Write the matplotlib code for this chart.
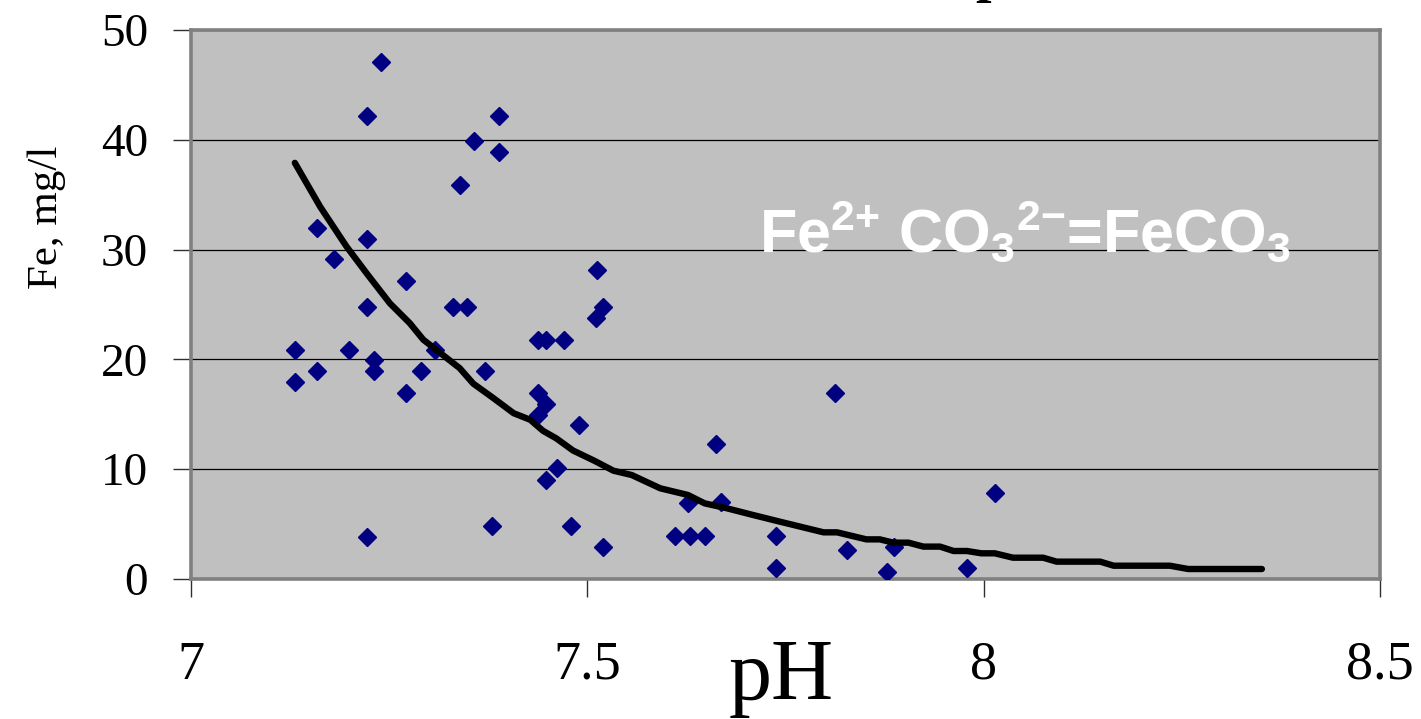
import matplotlib
matplotlib.use("Agg")
import matplotlib.pyplot as plt

# measured points (pH, Fe mg/l)
ph_obs = [7.131, 7.131, 7.159, 7.159, 7.181, 7.199, 7.222, 7.222, 7.222, 7.231,
          7.231, 7.222, 7.240, 7.271, 7.271, 7.290, 7.308, 7.330, 7.339, 7.348,
          7.357, 7.371, 7.380, 7.389, 7.389, 7.438, 7.448, 7.471, 7.438, 7.448,
          7.438, 7.448, 7.462, 7.489, 7.479, 7.512, 7.511, 7.520, 7.520, 7.611,
          7.630, 7.648, 7.627, 7.669, 7.662, 7.738, 7.738, 7.813, 7.828, 7.878,
          7.887, 7.979, 8.014]
fe_obs = [20.9, 17.9, 18.9, 32.0, 29.1, 20.9, 42.2, 31.0, 24.8, 19.9,
          18.9, 3.8, 47.1, 27.1, 16.9, 18.9, 20.9, 24.8, 35.9, 24.8,
          39.9, 18.9, 4.8, 42.2, 38.9, 21.8, 21.8, 21.8, 16.9, 15.9,
          14.9, 9.0, 10.1, 14.0, 4.8, 28.1, 23.8, 24.8, 2.9, 3.9,
          3.9, 3.9, 6.9, 7.0, 12.3, 3.9, 0.97, 16.9, 2.6, 0.67,
          2.9, 0.97, 7.8]

# FeCO3 solubility curve
ph_curve = [7.131, 7.163, 7.196, 7.222, 7.251, 7.276, 7.293, 7.323, 7.339, 7.356,
            7.381, 7.407, 7.428, 7.444, 7.461, 7.482, 7.508, 7.533, 7.556, 7.592,
            7.615, 7.627, 7.648, 7.676, 7.709, 7.743, 7.777, 7.798, 7.815, 7.852,
            7.869, 7.886, 7.905, 7.924, 7.945, 7.962, 7.979, 7.997, 8.014, 8.037,
            8.075, 8.092, 8.147, 8.164, 8.235, 8.258, 8.351]
fe_curve = [37.9, 33.9, 30.3, 27.8, 25.1, 23.3, 21.8, 20.1, 19.2, 17.8,
            16.5, 15.1, 14.5, 13.5, 12.8, 11.7, 10.8, 9.86, 9.47, 8.26,
            7.86, 7.65, 6.89, 6.44, 5.83, 5.22, 4.62, 4.25, 4.25, 3.61,
            3.61, 3.31, 3.31, 2.95, 2.95, 2.55, 2.55, 2.34, 2.34, 1.94,
            1.94, 1.58, 1.58, 1.21, 1.21, 0.91, 0.91]

x_ticks = [7, 7.5, 8, 8.5]
x_tick_labels = ["7", "7.5", "8", "8.5"]
y_ticks = [0, 10, 20, 30, 40, 50]

plt.rcParams["font.family"] = ["Liberation Serif", "DejaVu Serif"]
plt.rcParams["mathtext.fontset"] = "custom"
plt.rcParams["mathtext.rm"] = "Liberation Sans:bold"
plt.rcParams["mathtext.bf"] = "Liberation Sans:bold"
plt.rcParams["mathtext.default"] = "bf"

fig = plt.figure(figsize=(14.21, 7.19), dpi=100)
ax = fig.add_axes([191 / 1421, 140 / 719, 1189 / 1421, 549 / 719])
ax.set_facecolor("#c0c0c0")

ax.set_xlim(7, 8.5)
ax.set_ylim(0, 50)
ax.set_yticks(y_ticks)
ax.set_xticks(x_ticks)
ax.set_xticklabels(x_tick_labels)

ax.grid(axis="y", color="black", linewidth=0.9)
ax.set_axisbelow(True)

ax.plot(ph_obs, fe_obs, linestyle="none", marker="D", markersize=8.8,
        color="#000080", zorder=3)
ax.plot(ph_curve, fe_curve, color="black", linewidth=4.6,
        solid_capstyle="round", solid_joinstyle="round", zorder=4)

for side in ["top", "right", "bottom", "left"]:
    ax.spines[side].set_color("#808080")
    ax.spines[side].set_linewidth(2.6)

ax.tick_params(axis="y", direction="out", length=13, width=1, color="#303030",
               labelsize=34, pad=18)
ax.tick_params(axis="x", direction="out", length=13, width=1, color="#303030",
               labelsize=39, pad=31)

ax.set_xlabel("pH", fontsize=62)
ax.xaxis.set_label_coords(0.496, -0.108)
ax.set_ylabel("Fe, mg/l", fontsize=31)
ax.yaxis.set_label_coords(-0.105, 0.658)

ax.text(7.717, 29.7, "Fe$^{2{+}}$ CO$_3{}^{2{-}}$=FeCO$_3$", color="white",
        fontsize=44, fontweight="bold", family="Liberation Sans",
        ha="left", va="baseline", zorder=5)

# title is cut off by the top edge of the picture
fig.text(975 / 1421, 1 + 9 / 719, "p", fontsize=40, fontweight="bold",
         ha="left", va="baseline")

fig.savefig("out.png", dpi=100)
